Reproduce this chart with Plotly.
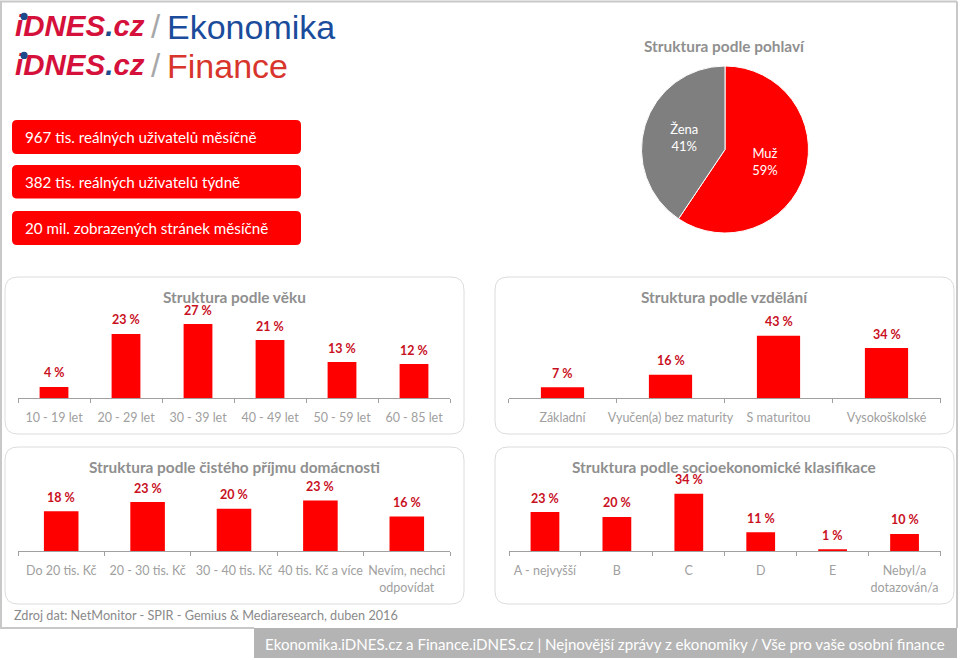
import plotly.graph_objects as go

# ---------- data ----------
age_labels = ["10 - 19 let", "20 - 29 let", "30 - 39 let", "40 - 49 let", "50 - 59 let", "60 - 85 let"]
age_values = [4.0, 23.2, 26.8, 21.0, 13.0, 12.3]
edu_labels = ["Základní", "Vyučen(a) bez maturity", "S maturitou", "Vysokoškolské"]
edu_values = [7.4, 16.1, 43.0, 34.4]
income_labels = ["Do 20 tis. Kč", "20 - 30 tis. Kč", "30 - 40 tis. Kč", "40 tis. Kč a více", "Nevím, nechci<br>odpovídat"]
income_values = [18.4, 22.7, 19.6, 23.4, 16.0]
socio_labels = ["A - nejvyšší", "B", "C", "D", "E", "Nebyl/a<br>dotazován/a"]
socio_values = [23.1, 20.2, 33.9, 11.2, 1.2, 10.2]
gender_labels = ["Muž", "Žena"]
gender_values = [59.4, 40.6]
stat_texts = ["967 tis. reálných uživatelů měsíčně", "382 tis. reálných uživatelů týdně", "20 mil. zobrazených stránek měsíčně"]
source_text = "Zdroj dat: NetMonitor - SPIR - Gemius & Mediaresearch, duben 2016"
footer_text = "Ekonomika.iDNES.cz a Finance.iDNES.cz | Nejnovější zprávy z ekonomiky / Vše pro vaše osobní finance"

W, H = 960, 660
FONT = "Lato"
RED = "#ff0000"
LABEL_RED = "#c9101e"
TITLE_GRAY = "#8f8f8f"
TICK_GRAY = "#a0a0a0"
AXIS_GRAY = "#a0a0a0"
PANEL_LINE = "#dcdcdc"


def fx(x):
    return x / W


def fy(y):
    return 1 - y / H


def round_rect(x0, y0, x1, y1, r):
    a, b, c, d = fx(x0), fx(x1), fy(y0), fy(y1)
    rx, ry = r / W, r / H
    return (f"M {a+rx} {c} L {b-rx} {c} Q {b} {c} {b} {c-ry} L {b} {d+ry} Q {b} {d} {b-rx} {d} "
            f"L {a+rx} {d} Q {a} {d} {a} {d+ry} L {a} {c-ry} Q {a} {c} {a+rx} {c} Z")


fig = go.Figure()
shapes, annotations = [], []


def text(x, y, s, size=13, color="#000", xanchor="center", family=FONT):
    annotations.append(dict(x=fx(x), y=fy(y), xref="paper", yref="paper", text=s, showarrow=False,
                            xanchor=xanchor, yanchor="middle", borderpad=0,
                            font=dict(family=family, size=size, color=color)))


# frame and footer
for x0, y0, x1, y1 in [(0, 1.5, 957, 1.5), (1, 1.5, 1, 628), (957, 1.5, 957, 628), (0, 628, 254, 628)]:
    shapes.append(dict(type="line", xref="paper", yref="paper", x0=fx(x0), x1=fx(x1), y0=fy(y0), y1=fy(y1),
                       line=dict(color="#c8c8c8", width=2), layer="below"))
shapes.append(dict(type="rect", xref="paper", yref="paper", x0=fx(254), x1=fx(957), y0=fy(628), y1=fy(658),
                   fillcolor="#b4b4b4", line_width=0, layer="below"))
text(264, 644, footer_text, size=15.1, color="#ffffff", xanchor="left")
text(13, 615, source_text, size=12.7, color="#8a8a8a", xanchor="left")

# logos: the wordmark is a text trace on a full-page overlay axis, so the blue i-dot shape can sit on top of it
LOGO_RED = "#d5103a"
LOGO_BLUE = "#1c4a8c"
layout_axes = dict(
    xaxis5=dict(domain=[0, 1], range=[0, W], visible=False, fixedrange=True, anchor="y5"),
    yaxis5=dict(domain=[0, 1], range=[H, 0], visible=False, fixedrange=True, anchor="x5"),
)
for y, word, col in [(27, "Ekonomika", "#1b4c9c"), (66, "Finance", "#d8352c")]:
    fig.add_trace(go.Scatter(x=[15], y=[y + 2], xaxis="x5", yaxis="y5", mode="text", showlegend=False, hoverinfo="skip",
                             text=[f'<b><i>iDNES<span style="color:{LOGO_BLUE}">.</span>cz</i></b>'],
                             textposition="middle right",
                             textfont=dict(family="Liberation Sans", size=29.5, color=LOGO_RED)))
    shapes.append(dict(type="circle", xref="paper", yref="paper", x0=fx(20.5), x1=fx(27.7),
                       y0=fy(y - 7), y1=fy(y - 14.2), fillcolor=LOGO_BLUE, line_width=0, layer="above"))
    text(150, y, "/", size=33, color="#a8a8a8", xanchor="left", family="Liberation Sans")
    text(166, y, word, size=34, color=col, xanchor="left", family="Liberation Sans")

# stat buttons
for s, (y0, y1) in zip(stat_texts, [(120, 154), (165, 198.5), (211, 245)]):
    shapes.append(dict(type="path", path=round_rect(12, y0, 301, y1, 5), xref="paper", yref="paper",
                       fillcolor=RED, line_width=0, layer="below"))
    text(24, (y0 + y1) / 2, s, size=15.2, color="#ffffff", xanchor="left")

# panels
panels = [
    dict(box=(5, 277, 464, 434), axis=(18, 450), base=398, px=82.8, ymax=30, title="Struktura podle věku",
         tx=234, ty=296.5, cats=age_labels, vals=age_values),
    dict(box=(495, 277, 954, 434), axis=(508.5, 940.5), base=398, px=72.5, ymax=50, title="Struktura podle vzdělání",
         tx=724, ty=296.5, cats=edu_labels, vals=edu_values),
    dict(box=(5, 447, 464, 604), axis=(18, 450), base=551.3, px=65.1, ymax=30,
         title="Struktura podle čistého příjmu domácnosti", tx=234, ty=466.5, cats=income_labels, vals=income_values),
    dict(box=(495, 447, 954, 604), axis=(509, 940.5), base=551.3, px=68, ymax=40,
         title="Struktura podle socioekonomické klasifikace", tx=724, ty=466.5, cats=socio_labels, vals=socio_values),
]
for i, p in enumerate(panels, start=1):
    shapes.append(dict(type="path", path=round_rect(*p["box"], 13), xref="paper", yref="paper",
                       fillcolor="#ffffff", line=dict(color=PANEL_LINE, width=1), layer="below"))
    xa, ya = f"x{i}", f"y{i}"
    fig.add_trace(go.Bar(x=list(range(len(p["cats"]))), y=p["vals"], xaxis=xa, yaxis=ya, width=0.4,
                         marker=dict(color=RED, line_width=0), showlegend=False, hoverinfo="skip"))
    layout_axes[f"xaxis{i}"] = dict(domain=[fx(p["axis"][0]), fx(p["axis"][1])], anchor=ya,
                                    range=[-0.5, len(p["cats"]) - 0.5], type="category", tickmode="array",
                                    tickvals=list(range(len(p["cats"]))), ticktext=p["cats"],
                                    showgrid=False, zeroline=False, showline=True,
                                    linecolor=AXIS_GRAY, linewidth=1, fixedrange=True,
                                    ticks="outside", ticklen=4, tickcolor=AXIS_GRAY, tickwidth=1,
                                    tickson="boundaries", tickangle=0, ticklabelstandoff=8,
                                    tickfont=dict(family=FONT, size=12.5, color=TICK_GRAY))
    layout_axes[f"yaxis{i}"] = dict(domain=[fy(p["base"]), fy(p["base"] - p["px"])], anchor=xa,
                                    range=[0, p["ymax"]], visible=False, fixedrange=True)
    for k, v in enumerate(p["vals"]):
        annotations.append(dict(x=k, y=v, xref=xa, yref=ya, text=f"{v:.0f} %", showarrow=False, yshift=14,
                                xanchor="center", yanchor="middle", borderpad=0,
                                font=dict(family=FONT, size=12.5, color=LABEL_RED, weight="bold")))
    text(p["tx"], p["ty"], f"<b>{p['title']}</b>", size=15.4, color=TITLE_GRAY)

# gender pie
text(724, 46.5, "<b>Struktura podle pohlaví</b>", size=15.4, color=TITLE_GRAY)
fig.add_trace(go.Pie(labels=gender_labels, values=gender_values, sort=False, direction="clockwise", rotation=0,
                     marker=dict(colors=[RED, "#7f7f7f"], line=dict(color="#ffffff", width=1)),
                     domain=dict(x=[fx(725 - 83.5), fx(725 + 83.5)], y=[fy(149.5 + 83.5), fy(149.5 - 83.5)]),
                     texttemplate="%{label}<br>%{percent:.0%}", textposition="inside", insidetextorientation="horizontal",
                     textfont=dict(family=FONT, size=13, color="#ffffff"), showlegend=False, hoverinfo="skip"))

fig.update_layout(width=W, height=H, margin=dict(l=0, r=0, t=0, b=0), paper_bgcolor="#ffffff",
                  plot_bgcolor="rgba(0,0,0,0)", shapes=shapes, annotations=annotations, **layout_axes)
fig.write_html("out.html", post_script="document.body.style.margin='0';document.documentElement.style.overflow='hidden';",
               config=dict(displayModeBar=False))
